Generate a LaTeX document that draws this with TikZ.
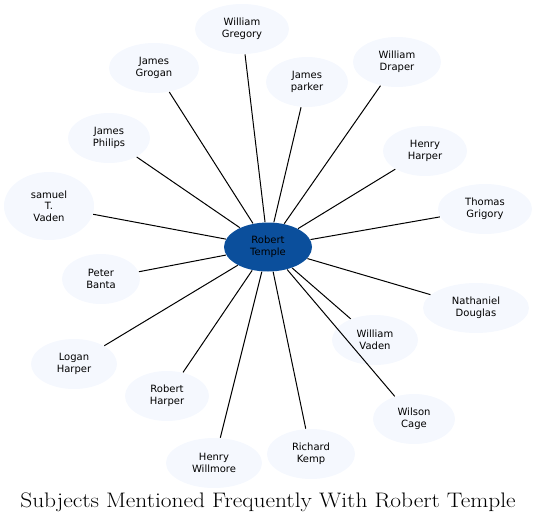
\documentclass[tikz,border=0pt]{standalone}
\usepackage{fontspec}
\newfontfamily\namefont{DejaVu Sans}
\usetikzlibrary{shapes.geometric}
\definecolor{palefill}{RGB}{245,248,254}
\definecolor{templeblue}{RGB}{11,79,156}

\begin{document}
\begin{tikzpicture}[x=1pt,y=-1pt,line width=1pt,
  person/.style={ellipse,fill=palefill,align=center,inner sep=0pt,
    minimum width=86pt,minimum height=50pt,
    font=\namefont\fontsize{10}{11.7}\selectfont},
  hub/.style={person,fill=templeblue,minimum width=88pt,minimum height=49pt}]
  \useasboundingbox (0,0) rectangle (537,524);
  \node[hub]                          (temple)    at (268,247) {Robert\\Temple};
  \node[person, minimum width=94pt]   (gregory)   at (242,29)  {William\\Gregory};
  \node[person, minimum width=90pt]   (grogan)    at (154,68)  {James\\Grogan};
  \node[person, minimum width=82pt]   (parker)    at (307,82)  {James\\parker};
  \node[person, minimum width=88pt]   (draper)    at (397,62)  {William\\Draper};
  \node[person, minimum width=82pt]   (philips)   at (109,138) {James\\Philips};
  \node[person, minimum width=84pt]   (hharper)   at (425,151) {Henry\\Harper};
  \node[person, minimum width=90pt, minimum height=68pt]
                                      (svaden)    at (49,206)  {samuel\\T.\\Vaden};
  \node[person, minimum width=94pt]   (grigory)   at (485,209) {Thomas\\Grigory};
  \node[person, minimum width=78pt]   (banta)     at (101,279) {Peter\\Banta};
  \node[person, minimum width=106pt]  (douglas)   at (476,308) {Nathaniel\\Douglas};
  \node[person, minimum width=86pt]   (wvaden)    at (375,340) {William\\Vaden};
  \node[person, minimum width=86pt]   (lharper)   at (74,364)  {Logan\\Harper};
  \node[person, minimum width=84pt]   (rharper)   at (167,396) {Robert\\Harper};
  \node[person, minimum width=82pt]   (cage)      at (414,419) {Wilson\\Cage};
  \node[person, minimum width=96pt]   (willmore)  at (214,463) {Henry\\Willmore};
  \node[person, minimum width=88pt]   (kemp)      at (311,454) {Richard\\Kemp};

  \path
  (temple)
  edge (gregory)
  edge (grogan)
  edge (parker)
  edge (draper)
  edge (philips)
  edge (hharper)
  edge (svaden)
  edge (grigory)
  edge (banta)
  edge (douglas)
  edge (wvaden)
  edge (lharper)
  edge (rharper)
  edge (cage)
  edge (willmore)
  edge (kemp)
;

  \node (title) at (268,502) {\scalebox{1.115}[1]{\fontsize{21}{24}\selectfont Subjects Mentioned Frequently With Robert Temple}};
\end{tikzpicture}
\end{document}
